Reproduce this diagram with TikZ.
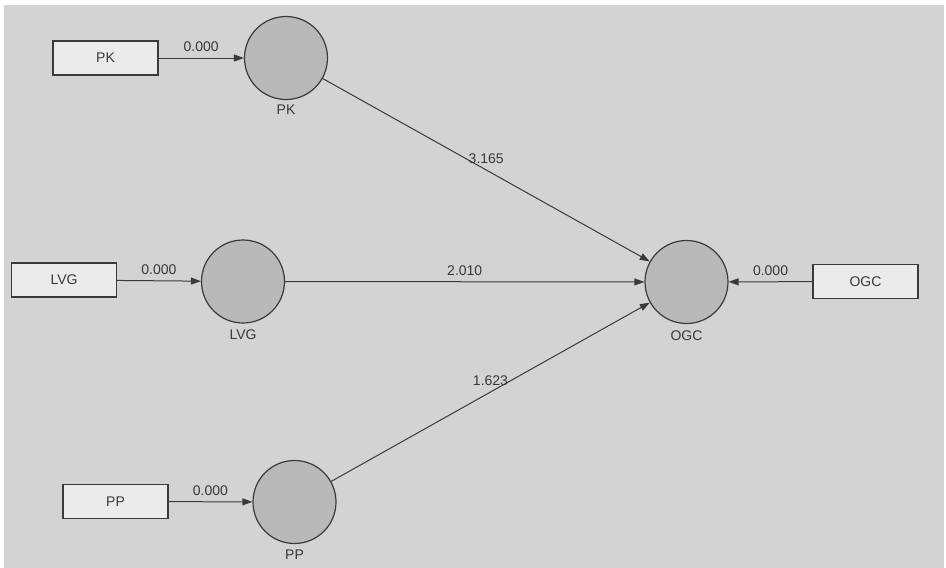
\documentclass[tikz,border=0pt]{standalone}
\usepackage{fontspec}
\setmainfont{Liberation Sans}
\usetikzlibrary{arrows.meta}
\definecolor{bgc}{HTML}{D3D3D3}
\definecolor{boxc}{HTML}{EBEBEB}
\definecolor{circc}{HTML}{B9B9B9}
\definecolor{linec}{HTML}{3A3A3A}
\definecolor{txtc}{HTML}{383838}
\begin{document}
\begin{tikzpicture}[x=1pt,y=-1pt,
  every node/.style={font=\fontsize{14}{16}\selectfont, text=txtc},
  indbox/.style={draw=linec, line width=1.1pt, fill=boxc, minimum width=105pt, minimum height=34pt, inner sep=0pt},
  lv/.style={circle, draw=linec, line width=1.2pt, fill=circc, minimum size=83pt, inner sep=0pt},
  lvlabel/.style={inner sep=0pt},
  conn/.style={draw=linec, line width=1pt, -{Triangle[length=10pt,width=7pt]}},
  wlabel/.style={midway, yshift=11pt, inner sep=0pt}
]
\fill[white] (0,0) rectangle (946,568);
\fill[bgc] (4,5) rectangle (944,568);
\useasboundingbox (0,0) rectangle (946,568);

\node[indbox] (pkb) at (105.5,58) {PK};
\node[indbox] (lvgb) at (64,280) {LVG};
\node[indbox] (ppb) at (115.5,501.5) {PP};
\node[indbox] (ogcb) at (865.5,281.5) {OGC};

\node[lv] (pk) at (286,58) {};
\node[lv] (lvg) at (243,281.5) {};
\node[lv] (pp) at (294.5,502) {};
\node[lv] (ogc) at (686.5,282) {};

\node[lvlabel] (pkl) at (286,110) {PK};
\node[lvlabel] (lvgl) at (243,335) {LVG};
\node[lvlabel] (ppl) at (294.5,555) {PP};
\node[lvlabel] (ogcl) at (686.5,336) {OGC};

\draw[conn] (pkb) -- (pk) node[wlabel] {0.000};
\draw[conn] (lvgb) -- (lvg) node[wlabel] {0.000};
\draw[conn] (ppb) -- (pp) node[wlabel] {0.000};
\draw[conn] (ogcb) -- (ogc) node[wlabel] {0.000};

\draw[conn] (pk) -- (ogc) node[wlabel] {3.165};
\draw[conn] (lvg) -- (ogc) node[wlabel] {2.010};
\draw[conn] (pp) -- (ogc) node[wlabel] {1.623};
\end{tikzpicture}
\end{document}
